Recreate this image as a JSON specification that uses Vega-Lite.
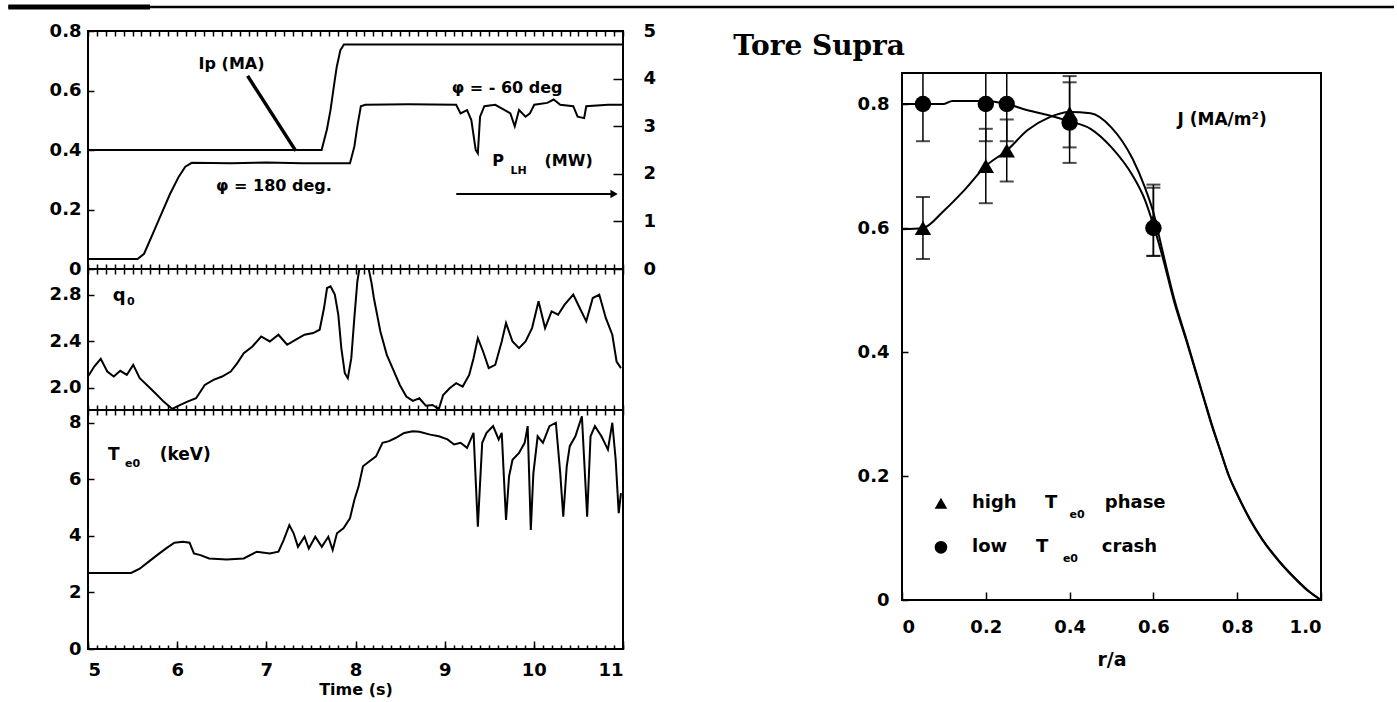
{
  "$schema": "https://vega.github.io/schema/vega-lite/v6.json",
  "background": "white",
  "padding": {"left": 5, "top": 4, "right": 2, "bottom": 0},
  "config": {
    "view": {"stroke": "black", "strokeWidth": 2},
    "axis": {"labelFont": "DejaVu Sans", "labelFontSize": 18, "labelFontWeight": "bold", "labelColor": "black", "domain": false, "tickColor": "black", "tickWidth": 1.5, "grid": false, "titleFont": "DejaVu Sans", "titleFontSize": 16, "titleFontWeight": "bold", "titleColor": "black"},
    "text": {"font": "DejaVu Sans", "fontWeight": "bold", "fontSize": 16, "color": "black"},
    "line": {"color": "black", "strokeWidth": 2}
  },
  "datasets": {
    "headerLine": [{"a": -0.061, "b": 1, "y": 0.5}],
    "headerThick": [{"a": -0.061, "b": 0.0475, "y": 0.5}],
    "ip": [
      {"t": 5.0, "v": 0.40}, {"t": 7.62, "v": 0.40}, {"t": 7.68, "v": 0.47}, {"t": 7.72, "v": 0.535}, {"t": 7.76, "v": 0.62}, {"t": 7.79, "v": 0.68}, {"t": 7.83, "v": 0.735}, {"t": 7.87, "v": 0.755}, {"t": 11.0, "v": 0.755}
    ],
    "plh": [
      {"t": 5.0, "p": 0.21}, {"t": 5.556, "p": 0.21}, {"t": 5.629, "p": 0.32}, {"t": 5.726, "p": 0.74}, {"t": 5.823, "p": 1.16}, {"t": 5.921, "p": 1.58}, {"t": 6.018, "p": 1.94}, {"t": 6.091, "p": 2.15}, {"t": 6.164, "p": 2.23}, {"t": 6.6, "p": 2.22}, {"t": 7.0, "p": 2.24}, {"t": 7.4, "p": 2.22}, {"t": 7.938, "p": 2.22}, {"t": 7.987, "p": 2.57}, {"t": 8.021, "p": 3.0}, {"t": 8.06, "p": 3.42}, {"t": 8.109, "p": 3.45}, {"t": 8.6, "p": 3.46}, {"t": 9.129, "p": 3.45}, {"t": 9.178, "p": 3.27}, {"t": 9.251, "p": 3.34}, {"t": 9.299, "p": 3.13}, {"t": 9.348, "p": 2.5}, {"t": 9.372, "p": 2.43}, {"t": 9.397, "p": 3.2}, {"t": 9.445, "p": 3.42}, {"t": 9.567, "p": 3.45}, {"t": 9.664, "p": 3.35}, {"t": 9.737, "p": 3.27}, {"t": 9.786, "p": 3.0}, {"t": 9.834, "p": 3.34}, {"t": 9.907, "p": 3.2}, {"t": 9.956, "p": 3.27}, {"t": 10.005, "p": 3.45}, {"t": 10.15, "p": 3.49}, {"t": 10.223, "p": 3.56}, {"t": 10.296, "p": 3.45}, {"t": 10.442, "p": 3.42}, {"t": 10.491, "p": 3.2}, {"t": 10.564, "p": 3.17}, {"t": 10.588, "p": 3.42}, {"t": 10.831, "p": 3.45}, {"t": 11.0, "p": 3.45}
    ],
    "topText": [
      {"t": 6.61, "v": 0.689, "label": "Ip (MA)"},
      {"t": 9.70, "v": 0.608, "label": "φ = - 60 deg"},
      {"t": 7.085, "v": 0.279, "label": "φ = 180 deg."},
      {"t": 9.60, "v": 0.363, "label": "P"},
      {"t": 10.39, "v": 0.363, "label": "(MW)"}
    ],
    "topSub": [{"t": 9.83, "v": 0.328, "label": "LH"}],
    "pointer": [{"t": 6.79, "v": 0.649, "t2": 7.33, "v2": 0.397}],
    "arrow": [{"t": 9.13, "t2": 10.90, "v": 0.252}],
    "arrowHead": [{"t": 10.90, "v": 0.252}],
    "q0": [
      {"t": 5.0, "q": 2.097}, {"t": 5.07, "q": 2.183}, {"t": 5.143, "q": 2.249}, {"t": 5.216, "q": 2.14}, {"t": 5.289, "q": 2.097}, {"t": 5.362, "q": 2.146}, {"t": 5.435, "q": 2.111}, {"t": 5.507, "q": 2.197}, {"t": 5.58, "q": 2.083}, {"t": 5.678, "q": 2.011}, {"t": 5.775, "q": 1.939}, {"t": 5.848, "q": 1.882}, {"t": 5.945, "q": 1.819}, {"t": 6.018, "q": 1.847}, {"t": 6.115, "q": 1.882}, {"t": 6.212, "q": 1.911}, {"t": 6.31, "q": 2.025}, {"t": 6.407, "q": 2.068}, {"t": 6.504, "q": 2.097}, {"t": 6.601, "q": 2.14}, {"t": 6.674, "q": 2.212}, {"t": 6.747, "q": 2.298}, {"t": 6.844, "q": 2.355}, {"t": 6.942, "q": 2.441}, {"t": 7.039, "q": 2.398}, {"t": 7.136, "q": 2.456}, {"t": 7.233, "q": 2.37}, {"t": 7.331, "q": 2.413}, {"t": 7.428, "q": 2.456}, {"t": 7.525, "q": 2.47}, {"t": 7.598, "q": 2.499}, {"t": 7.647, "q": 2.685}, {"t": 7.681, "q": 2.857}, {"t": 7.72, "q": 2.872}, {"t": 7.768, "q": 2.8}, {"t": 7.807, "q": 2.628}, {"t": 7.841, "q": 2.341}, {"t": 7.88, "q": 2.126}, {"t": 7.914, "q": 2.083}, {"t": 7.953, "q": 2.255}, {"t": 7.987, "q": 2.6}, {"t": 8.021, "q": 2.915}, {"t": 8.05, "q": 3.05}, {"t": 8.14, "q": 3.05}, {"t": 8.18, "q": 2.9}, {"t": 8.206, "q": 2.771}, {"t": 8.279, "q": 2.484}, {"t": 8.351, "q": 2.283}, {"t": 8.424, "q": 2.154}, {"t": 8.497, "q": 2.025}, {"t": 8.57, "q": 1.925}, {"t": 8.643, "q": 1.888}, {"t": 8.716, "q": 1.911}, {"t": 8.789, "q": 1.847}, {"t": 8.862, "q": 1.853}, {"t": 8.935, "q": 1.819}, {"t": 8.983, "q": 1.939}, {"t": 9.056, "q": 1.997}, {"t": 9.129, "q": 2.04}, {"t": 9.202, "q": 2.011}, {"t": 9.275, "q": 2.111}, {"t": 9.324, "q": 2.255}, {"t": 9.372, "q": 2.427}, {"t": 9.431, "q": 2.312}, {"t": 9.494, "q": 2.169}, {"t": 9.567, "q": 2.197}, {"t": 9.64, "q": 2.398}, {"t": 9.688, "q": 2.556}, {"t": 9.761, "q": 2.398}, {"t": 9.834, "q": 2.341}, {"t": 9.907, "q": 2.398}, {"t": 9.98, "q": 2.513}, {"t": 10.053, "q": 2.743}, {"t": 10.126, "q": 2.513}, {"t": 10.199, "q": 2.657}, {"t": 10.272, "q": 2.628}, {"t": 10.345, "q": 2.714}, {"t": 10.442, "q": 2.8}, {"t": 10.515, "q": 2.685}, {"t": 10.588, "q": 2.571}, {"t": 10.661, "q": 2.771}, {"t": 10.734, "q": 2.8}, {"t": 10.807, "q": 2.6}, {"t": 10.88, "q": 2.456}, {"t": 10.928, "q": 2.226}, {"t": 10.977, "q": 2.169}
    ],
    "qText": [{"t": 5.35, "q": 2.79, "label": "q"}],
    "qSub": [{"t": 5.48, "q": 2.735, "label": "0"}],
    "te": [
      {"t": 5.0, "T": 2.69}, {"t": 5.483, "T": 2.69}, {"t": 5.58, "T": 2.84}, {"t": 5.678, "T": 3.08}, {"t": 5.775, "T": 3.32}, {"t": 5.872, "T": 3.55}, {"t": 5.969, "T": 3.76}, {"t": 6.066, "T": 3.79}, {"t": 6.139, "T": 3.76}, {"t": 6.188, "T": 3.38}, {"t": 6.261, "T": 3.32}, {"t": 6.358, "T": 3.2}, {"t": 6.553, "T": 3.16}, {"t": 6.747, "T": 3.2}, {"t": 6.893, "T": 3.44}, {"t": 7.039, "T": 3.38}, {"t": 7.136, "T": 3.44}, {"t": 7.194, "T": 3.85}, {"t": 7.258, "T": 4.38}, {"t": 7.306, "T": 4.09}, {"t": 7.355, "T": 3.61}, {"t": 7.428, "T": 3.97}, {"t": 7.476, "T": 3.55}, {"t": 7.549, "T": 3.97}, {"t": 7.622, "T": 3.61}, {"t": 7.695, "T": 3.97}, {"t": 7.744, "T": 3.5}, {"t": 7.792, "T": 4.09}, {"t": 7.865, "T": 4.27}, {"t": 7.938, "T": 4.62}, {"t": 7.987, "T": 5.27}, {"t": 8.035, "T": 5.75}, {"t": 8.084, "T": 6.46}, {"t": 8.157, "T": 6.64}, {"t": 8.23, "T": 6.81}, {"t": 8.303, "T": 7.29}, {"t": 8.376, "T": 7.35}, {"t": 8.448, "T": 7.46}, {"t": 8.546, "T": 7.64}, {"t": 8.643, "T": 7.7}, {"t": 8.716, "T": 7.68}, {"t": 8.838, "T": 7.58}, {"t": 8.935, "T": 7.52}, {"t": 9.032, "T": 7.41}, {"t": 9.105, "T": 7.23}, {"t": 9.178, "T": 7.29}, {"t": 9.251, "T": 7.11}, {"t": 9.324, "T": 7.64}, {"t": 9.372, "T": 4.32}, {"t": 9.397, "T": 5.86}, {"t": 9.421, "T": 7.29}, {"t": 9.47, "T": 7.64}, {"t": 9.543, "T": 7.88}, {"t": 9.606, "T": 7.41}, {"t": 9.64, "T": 7.64}, {"t": 9.688, "T": 4.56}, {"t": 9.722, "T": 6.1}, {"t": 9.761, "T": 6.69}, {"t": 9.834, "T": 6.93}, {"t": 9.897, "T": 7.29}, {"t": 9.931, "T": 7.88}, {"t": 9.966, "T": 4.21}, {"t": 9.995, "T": 6.22}, {"t": 10.043, "T": 7.52}, {"t": 10.102, "T": 7.29}, {"t": 10.175, "T": 7.88}, {"t": 10.247, "T": 8.0}, {"t": 10.296, "T": 6.22}, {"t": 10.33, "T": 4.68}, {"t": 10.369, "T": 6.46}, {"t": 10.403, "T": 7.17}, {"t": 10.466, "T": 7.52}, {"t": 10.539, "T": 8.23}, {"t": 10.598, "T": 4.68}, {"t": 10.636, "T": 7.52}, {"t": 10.685, "T": 7.88}, {"t": 10.758, "T": 7.52}, {"t": 10.831, "T": 7.05}, {"t": 10.88, "T": 8.0}, {"t": 10.918, "T": 6.69}, {"t": 10.952, "T": 4.8}, {"t": 10.977, "T": 5.51}
    ],
    "teText": [{"t": 5.29, "T": 6.87, "label": "T"}, {"t": 6.09, "T": 6.87, "label": "(keV)"}],
    "teSub": [{"t": 5.50, "T": 6.55, "label": "e0"}],
    "curves": [
      {"r": 0.0, "J": 0.8, "series": "low"}, {"r": 0.05, "J": 0.8, "series": "low"}, {"r": 0.1, "J": 0.8, "series": "low"}, {"r": 0.12, "J": 0.805, "series": "low"}, {"r": 0.2, "J": 0.805, "series": "low"}, {"r": 0.25, "J": 0.8, "series": "low"}, {"r": 0.3, "J": 0.79, "series": "low"}, {"r": 0.35, "J": 0.782, "series": "low"}, {"r": 0.4, "J": 0.772, "series": "low"}, {"r": 0.45, "J": 0.76, "series": "low"}, {"r": 0.5, "J": 0.73, "series": "low"}, {"r": 0.55, "J": 0.685, "series": "low"}, {"r": 0.58, "J": 0.645, "series": "low"}, {"r": 0.6, "J": 0.605, "series": "low"}, {"r": 0.62, "J": 0.558, "series": "low"}, {"r": 0.65, "J": 0.48, "series": "low"}, {"r": 0.68, "J": 0.415, "series": "low"}, {"r": 0.7, "J": 0.37, "series": "low"}, {"r": 0.72, "J": 0.325, "series": "low"}, {"r": 0.74, "J": 0.28, "series": "low"}, {"r": 0.76, "J": 0.24, "series": "low"}, {"r": 0.78, "J": 0.2, "series": "low"}, {"r": 0.8, "J": 0.17, "series": "low"}, {"r": 0.83, "J": 0.13, "series": "low"}, {"r": 0.86, "J": 0.097, "series": "low"}, {"r": 0.9, "J": 0.062, "series": "low"}, {"r": 0.94, "J": 0.033, "series": "low"}, {"r": 0.97, "J": 0.014, "series": "low"}, {"r": 1.0, "J": 0.0, "series": "low"},
      {"r": 0.0, "J": 0.598, "series": "high"}, {"r": 0.05, "J": 0.6, "series": "high"}, {"r": 0.1, "J": 0.628, "series": "high"}, {"r": 0.15, "J": 0.662, "series": "high"}, {"r": 0.2, "J": 0.7, "series": "high"}, {"r": 0.25, "J": 0.725, "series": "high"}, {"r": 0.3, "J": 0.758, "series": "high"}, {"r": 0.35, "J": 0.778, "series": "high"}, {"r": 0.4, "J": 0.787, "series": "high"}, {"r": 0.45, "J": 0.785, "series": "high"}, {"r": 0.5, "J": 0.762, "series": "high"}, {"r": 0.55, "J": 0.712, "series": "high"}, {"r": 0.58, "J": 0.665, "series": "high"}, {"r": 0.6, "J": 0.625, "series": "high"}, {"r": 0.62, "J": 0.568, "series": "high"}, {"r": 0.65, "J": 0.485, "series": "high"}, {"r": 0.68, "J": 0.418, "series": "high"}, {"r": 0.7, "J": 0.372, "series": "high"}, {"r": 0.72, "J": 0.327, "series": "high"}, {"r": 0.74, "J": 0.282, "series": "high"}, {"r": 0.76, "J": 0.241, "series": "high"}, {"r": 0.78, "J": 0.201, "series": "high"}, {"r": 0.8, "J": 0.171, "series": "high"}, {"r": 0.83, "J": 0.131, "series": "high"}, {"r": 0.86, "J": 0.098, "series": "high"}, {"r": 0.9, "J": 0.063, "series": "high"}, {"r": 0.94, "J": 0.034, "series": "high"}, {"r": 0.97, "J": 0.015, "series": "high"}, {"r": 1.0, "J": 0.0, "series": "high"}
    ],
    "points": [
      {"r": 0.05, "J": 0.8, "lo": 0.74, "hi": 0.86, "series": "low"},
      {"r": 0.2, "J": 0.8, "lo": 0.74, "hi": 0.86, "series": "low"},
      {"r": 0.25, "J": 0.8, "lo": 0.74, "hi": 0.86, "series": "low"},
      {"r": 0.4, "J": 0.77, "lo": 0.705, "hi": 0.835, "series": "low"},
      {"r": 0.6, "J": 0.6, "lo": 0.555, "hi": 0.665, "series": "low"},
      {"r": 0.05, "J": 0.6, "lo": 0.55, "hi": 0.65, "series": "high"},
      {"r": 0.2, "J": 0.7, "lo": 0.64, "hi": 0.76, "series": "high"},
      {"r": 0.25, "J": 0.725, "lo": 0.675, "hi": 0.775, "series": "high"},
      {"r": 0.4, "J": 0.785, "lo": 0.73, "hi": 0.845, "series": "high"},
      {"r": 0.6, "J": 0.61, "lo": 0.555, "hi": 0.67, "series": "high"}
    ],
    "jText": [{"r": 0.764, "J": 0.774, "label": "J (MA/m²)"}],
    "legSym": [{"r": 0.093, "J": 0.156, "series": "high"}, {"r": 0.093, "J": 0.085, "series": "low"}],
    "legWords": [
      {"r": 0.167, "J": 0.156, "label": "high"}, {"r": 0.341, "J": 0.156, "label": "T"}, {"r": 0.484, "J": 0.156, "label": "phase"},
      {"r": 0.167, "J": 0.085, "label": "low"}, {"r": 0.32, "J": 0.085, "label": "T"}, {"r": 0.477, "J": 0.085, "label": "crash"}
    ],
    "legSub": [{"r": 0.40, "J": 0.137, "label": "e0"}, {"r": 0.384, "J": 0.066, "label": "e0"}],
    "spacer": []
  },
  "spacing": 11,
  "vconcat": [
    {
      "width": 1306,
      "height": 4,
      "view": {"stroke": null},
      "layer": [
        {
          "data": {"name": "headerLine"},
          "mark": {"type": "rule", "strokeWidth": 2.5, "color": "black"},
          "encoding": {
            "x": {"field": "a", "type": "quantitative", "scale": {"domain": [0, 1], "nice": false}, "axis": null},
            "x2": {"field": "b"},
            "y": {"field": "y", "type": "quantitative", "scale": {"domain": [0, 1], "nice": false}, "axis": null}
          }
        },
        {
          "data": {"name": "headerThick"},
          "mark": {"type": "rule", "strokeWidth": 5, "color": "black"},
          "encoding": {
            "x": {"field": "a", "type": "quantitative", "scale": {"domain": [0, 1], "nice": false}, "axis": null},
            "x2": {"field": "b"},
            "y": {"field": "y", "type": "quantitative", "scale": {"domain": [0, 1], "nice": false}, "axis": null}
          }
        }
      ]
    },
    {
      "spacing": 75,
      "hconcat": [
        {
          "bounds": "flush",
          "spacing": 0,
          "vconcat": [
            {
              "width": 535,
              "height": 238,
              "resolve": {"scale": {"y": "independent"}, "axis": {"x": "independent", "y": "independent"}},
              "layer": [
                {
                  "data": {"name": "ip"},
                  "mark": {"type": "line"},
                  "encoding": {
                    "x": {"field": "t", "type": "quantitative", "scale": {"domain": [5, 11], "nice": false}, "axis": {"orient": "bottom", "tickCount": 60, "labels": false, "tickSize": 5, "offset": -5, "title": null}},
                    "y": {"field": "v", "type": "quantitative", "scale": {"domain": [0, 0.8], "nice": false}, "axis": {"values": [0, 0.2, 0.4, 0.6, 0.8], "labelExpr": "datum.value == 0 ? '0' : format(datum.value, '.1f')", "tickSize": 6, "offset": -6, "labelPadding": 7, "title": null}}
                  }
                },
                {
                  "data": {"name": "plh"},
                  "mark": {"type": "line"},
                  "encoding": {
                    "x": {"field": "t", "type": "quantitative", "scale": {"domain": [5, 11], "nice": false}, "axis": null},
                    "y": {"field": "p", "type": "quantitative", "scale": {"domain": [0, 5], "nice": false}, "axis": {"orient": "right", "values": [0, 1, 2, 3, 4, 5], "tickSize": 10, "offset": -10, "labelPadding": 20, "title": null}}
                  }
                },
                {
                  "data": {"name": "topText"},
                  "mark": {"type": "text", "align": "center", "baseline": "middle"},
                  "encoding": {
                    "x": {"field": "t", "type": "quantitative", "scale": {"domain": [5, 11], "nice": false}, "axis": {"orient": "top", "tickCount": 60, "labels": false, "tickSize": 5, "offset": -5, "title": null}},
                    "y": {"field": "v", "type": "quantitative", "scale": {"domain": [0, 0.8], "nice": false}, "axis": null},
                    "text": {"field": "label"}
                  }
                },
                {
                  "data": {"name": "topSub"},
                  "mark": {"type": "text", "align": "center", "baseline": "middle", "fontSize": 11},
                  "encoding": {
                    "x": {"field": "t", "type": "quantitative", "scale": {"domain": [5, 11], "nice": false}, "axis": null},
                    "y": {"field": "v", "type": "quantitative", "scale": {"domain": [0, 0.8], "nice": false}, "axis": null},
                    "text": {"field": "label"}
                  }
                },
                {
                  "data": {"name": "pointer"},
                  "mark": {"type": "rule", "strokeWidth": 3.5, "color": "black"},
                  "encoding": {
                    "x": {"field": "t", "type": "quantitative", "scale": {"domain": [5, 11], "nice": false}, "axis": null},
                    "x2": {"field": "t2"},
                    "y": {"field": "v", "type": "quantitative", "scale": {"domain": [0, 0.8], "nice": false}, "axis": null},
                    "y2": {"field": "v2"}
                  }
                },
                {
                  "data": {"name": "arrow"},
                  "mark": {"type": "rule", "strokeWidth": 2, "color": "black"},
                  "encoding": {
                    "x": {"field": "t", "type": "quantitative", "scale": {"domain": [5, 11], "nice": false}, "axis": null},
                    "x2": {"field": "t2"},
                    "y": {"field": "v", "type": "quantitative", "scale": {"domain": [0, 0.8], "nice": false}, "axis": null}
                  }
                },
                {
                  "data": {"name": "arrowHead"},
                  "mark": {"type": "point", "shape": "triangle-right", "filled": true, "color": "black", "size": 70, "opacity": 1},
                  "encoding": {
                    "x": {"field": "t", "type": "quantitative", "scale": {"domain": [5, 11], "nice": false}, "axis": null},
                    "y": {"field": "v", "type": "quantitative", "scale": {"domain": [0, 0.8], "nice": false}, "axis": null}
                  }
                }
              ]
            },
            {
              "width": 535,
              "height": 141,
              "resolve": {"axis": {"x": "independent"}},
              "layer": [
                {
                  "data": {"name": "q0"},
                  "mark": {"type": "line", "clip": true},
                  "encoding": {
                    "x": {"field": "t", "type": "quantitative", "scale": {"domain": [5, 11], "nice": false}, "axis": {"orient": "bottom", "tickCount": 60, "labels": false, "tickSize": 5, "offset": -5, "title": null}},
                    "y": {"field": "q", "type": "quantitative", "scale": {"domain": [1.81, 3.02], "nice": false}, "axis": {"values": [2.0, 2.4, 2.8], "format": ".1f", "tickSize": 6, "offset": -6, "labelPadding": 7, "title": null}}
                  }
                },
                {
                  "data": {"name": "qText"},
                  "mark": {"type": "text", "align": "center", "baseline": "middle", "fontSize": 18},
                  "encoding": {
                    "x": {"field": "t", "type": "quantitative", "scale": {"domain": [5, 11], "nice": false}, "axis": {"orient": "top", "tickCount": 60, "labels": false, "tickSize": 5, "offset": -5, "title": null}},
                    "y": {"field": "q", "type": "quantitative", "scale": {"domain": [1.81, 3.02], "nice": false}},
                    "text": {"field": "label"}
                  }
                },
                {
                  "data": {"name": "qSub"},
                  "mark": {"type": "text", "align": "center", "baseline": "middle", "fontSize": 11},
                  "encoding": {
                    "x": {"field": "t", "type": "quantitative", "scale": {"domain": [5, 11], "nice": false}, "axis": null},
                    "y": {"field": "q", "type": "quantitative", "scale": {"domain": [1.81, 3.02], "nice": false}},
                    "text": {"field": "label"}
                  }
                }
              ]
            },
            {
              "width": 535,
              "height": 239,
              "resolve": {"axis": {"x": "independent"}},
              "layer": [
                {
                  "data": {"name": "te"},
                  "mark": {"type": "line", "clip": true},
                  "encoding": {
                    "x": {"field": "t", "type": "quantitative", "scale": {"domain": [5, 11], "nice": false}, "axis": {"orient": "bottom", "values": [5, 6, 7, 8, 9, 10, 11], "tickSize": 8, "offset": -8, "labelPadding": 12, "title": "Time (s)", "titlePadding": 2}},
                    "y": {"field": "T", "type": "quantitative", "scale": {"domain": [0, 8.45], "nice": false}, "axis": {"values": [0, 2, 4, 6, 8], "tickSize": 6, "offset": -6, "labelPadding": 7, "title": null}}
                  }
                },
                {
                  "data": {"name": "teText"},
                  "mark": {"type": "text", "align": "center", "baseline": "middle", "fontSize": 17},
                  "encoding": {
                    "x": {"field": "t", "type": "quantitative", "scale": {"domain": [5, 11], "nice": false}, "axis": {"orient": "top", "tickCount": 60, "labels": false, "tickSize": 5, "offset": -5, "title": null}},
                    "y": {"field": "T", "type": "quantitative", "scale": {"domain": [0, 8.45], "nice": false}},
                    "text": {"field": "label"}
                  }
                },
                {
                  "data": {"name": "teSub"},
                  "mark": {"type": "text", "align": "center", "baseline": "middle", "fontSize": 11},
                  "encoding": {
                    "x": {"field": "t", "type": "quantitative", "scale": {"domain": [5, 11], "nice": false}, "axis": {"orient": "bottom", "tickCount": 60, "labels": false, "tickSize": 4, "offset": -4, "title": null}},
                    "y": {"field": "T", "type": "quantitative", "scale": {"domain": [0, 8.45], "nice": false}},
                    "text": {"field": "label"}
                  }
                }
              ]
            }
          ]
        },
        {
          "spacing": 0,
          "vconcat": [
            {
              "width": 419,
              "height": 1,
              "view": {"stroke": null},
              "data": {"name": "spacer"},
              "mark": {"type": "point"},
              "encoding": {}
            },
            {
              "width": 419,
              "height": 527,
              "title": {"text": "Tore Supra", "anchor": "start", "frame": "group", "align": "right", "dx": 3, "font": "DejaVu Serif", "fontSize": 28, "fontWeight": "bold", "color": "black", "offset": 12},
              "layer": [
                {
                  "data": {"name": "curves"},
                  "mark": {"type": "line", "interpolate": "monotone", "strokeWidth": 2},
                  "encoding": {
                    "x": {"field": "r", "type": "quantitative", "scale": {"domain": [0, 1], "nice": false}, "axis": {"values": [0, 0.2, 0.4, 0.6, 0.8, 1.0], "labelExpr": "datum.value == 0 ? '0' : format(datum.value, '.1f')", "tickSize": 8, "offset": -8, "labelPadding": 18, "title": "r/a", "titlePadding": 14, "titleFontSize": 19}},
                    "y": {"field": "J", "type": "quantitative", "scale": {"domain": [0, 0.85], "nice": false}, "axis": {"values": [0, 0.2, 0.4, 0.6, 0.8], "labelExpr": "datum.value == 0 ? '0' : format(datum.value, '.1f')", "tickSize": 6, "offset": -6, "labelPadding": 13, "title": null}},
                    "detail": {"field": "series"}
                  }
                },
                {
                  "data": {"name": "points"},
                  "mark": {"type": "rule", "strokeWidth": 1.5, "color": "black", "clip": true},
                  "encoding": {
                    "x": {"field": "r", "type": "quantitative", "scale": {"domain": [0, 1], "nice": false}},
                    "y": {"field": "lo", "type": "quantitative", "scale": {"domain": [0, 0.85], "nice": false}},
                    "y2": {"field": "hi"}
                  }
                },
                {
                  "data": {"name": "points"},
                  "mark": {"type": "tick", "orient": "horizontal", "size": 14, "thickness": 2, "color": "black", "clip": true},
                  "encoding": {
                    "x": {"field": "r", "type": "quantitative", "scale": {"domain": [0, 1], "nice": false}},
                    "y": {"field": "lo", "type": "quantitative", "scale": {"domain": [0, 0.85], "nice": false}}
                  }
                },
                {
                  "data": {"name": "points"},
                  "mark": {"type": "tick", "orient": "horizontal", "size": 14, "thickness": 2, "color": "black", "clip": true},
                  "encoding": {
                    "x": {"field": "r", "type": "quantitative", "scale": {"domain": [0, 1], "nice": false}},
                    "y": {"field": "hi", "type": "quantitative", "scale": {"domain": [0, 0.85], "nice": false}}
                  }
                },
                {
                  "data": {"name": "points"},
                  "mark": {"type": "point", "filled": true, "color": "black", "size": 270, "opacity": 1},
                  "encoding": {
                    "x": {"field": "r", "type": "quantitative", "scale": {"domain": [0, 1], "nice": false}},
                    "y": {"field": "J", "type": "quantitative", "scale": {"domain": [0, 0.85], "nice": false}},
                    "shape": {"field": "series", "type": "nominal", "scale": {"domain": ["high", "low"], "range": ["triangle-up", "circle"]}, "legend": null}
                  }
                },
                {
                  "data": {"name": "jText"},
                  "mark": {"type": "text", "align": "center", "baseline": "middle", "fontSize": 17},
                  "encoding": {
                    "x": {"field": "r", "type": "quantitative", "scale": {"domain": [0, 1], "nice": false}},
                    "y": {"field": "J", "type": "quantitative", "scale": {"domain": [0, 0.85], "nice": false}},
                    "text": {"field": "label"}
                  }
                },
                {
                  "data": {"name": "legSym"},
                  "mark": {"type": "point", "filled": true, "color": "black", "size": 160, "opacity": 1},
                  "encoding": {
                    "x": {"field": "r", "type": "quantitative", "scale": {"domain": [0, 1], "nice": false}},
                    "y": {"field": "J", "type": "quantitative", "scale": {"domain": [0, 0.85], "nice": false}},
                    "shape": {"field": "series", "type": "nominal", "scale": {"domain": ["high", "low"], "range": ["triangle-up", "circle"]}, "legend": null}
                  }
                },
                {
                  "data": {"name": "legWords"},
                  "mark": {"type": "text", "align": "left", "baseline": "middle", "fontSize": 18},
                  "encoding": {
                    "x": {"field": "r", "type": "quantitative", "scale": {"domain": [0, 1], "nice": false}},
                    "y": {"field": "J", "type": "quantitative", "scale": {"domain": [0, 0.85], "nice": false}},
                    "text": {"field": "label"}
                  }
                },
                {
                  "data": {"name": "legSub"},
                  "mark": {"type": "text", "align": "left", "baseline": "middle", "fontSize": 11},
                  "encoding": {
                    "x": {"field": "r", "type": "quantitative", "scale": {"domain": [0, 1], "nice": false}},
                    "y": {"field": "J", "type": "quantitative", "scale": {"domain": [0, 0.85], "nice": false}},
                    "text": {"field": "label"}
                  }
                }
              ]
            }
          ]
        }
      ]
    }
  ]
}
